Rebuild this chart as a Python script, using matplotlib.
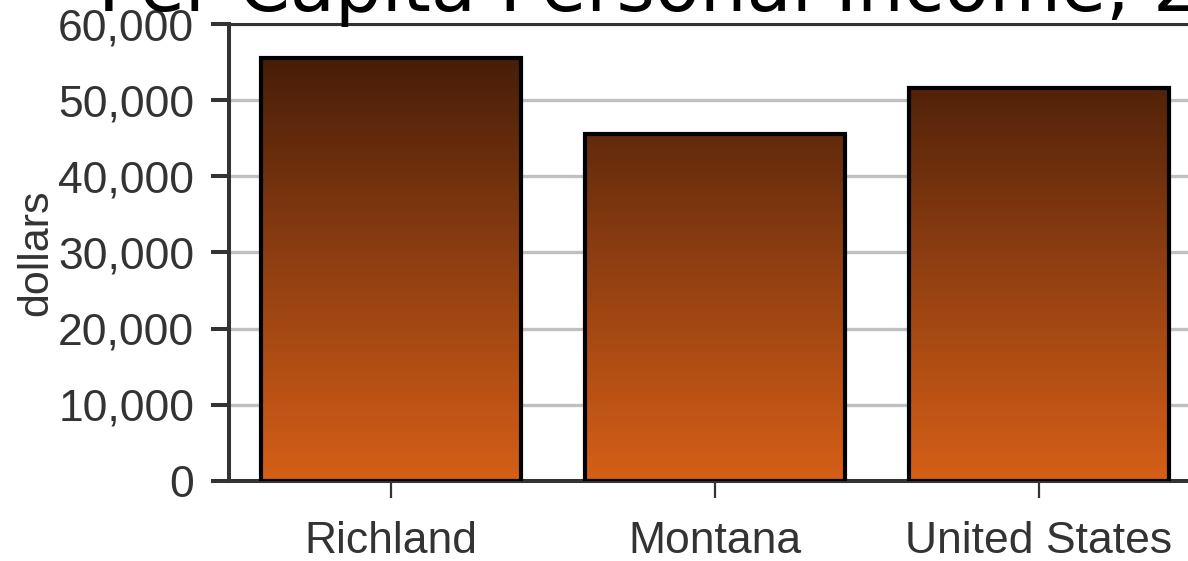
import matplotlib
matplotlib.use('Agg')
import matplotlib.pyplot as plt
import numpy as np
from matplotlib.colors import LinearSegmentedColormap

# 数据
regions = ['Richland', 'Montana', 'United States']
income = [55500, 45500, 51600]
y_ticks = [0, 10000, 20000, 30000, 40000, 50000, 60000]
title = 'Per Capita Personal Income, 2017'

W, H = 1188, 561
fig = plt.figure(figsize=(W / 100, H / 100), dpi=100)
ax = fig.add_axes([229 / W, 1 - 481 / H, 972 / W, (481 - 24) / H])

x = np.arange(len(regions))
ymax = y_ticks[-1]

# 渐变色填充: 底部橙色, 顶部深棕
cmap = LinearSegmentedColormap.from_list('brown', ['#D65F17', '#8C3D11', '#3A1806'])
grad = np.linspace(0, 1, 256).reshape(-1, 1)

bars = ax.bar(x, income, width=0.8, facecolor='none', edgecolor='black',
              linewidth=3, zorder=3)
for xi, bar in zip(x, bars):
    im = ax.imshow(grad, cmap=cmap, origin='lower', aspect='auto',
                   extent=(xi - 0.4, xi + 0.4, 0, ymax), zorder=2)
    im.set_clip_path(bar)

ax.set_xlim(-0.5, len(regions) - 0.5)
ax.set_ylim(0, ymax)
ax.set_xticks(x)
ax.set_xticklabels(regions)
ax.set_yticks(y_ticks)
ax.set_yticklabels([f'{v:,}' for v in y_ticks])

ax.yaxis.grid(True, color='#c0c0c0', linewidth=2.4, zorder=0)
ax.set_axisbelow(True)

for side in ['left', 'bottom']:
    ax.spines[side].set_linewidth(2.9)
    ax.spines[side].set_color('#333333')
ax.spines['top'].set_linewidth(2.2)
ax.spines['top'].set_color('#333333')
ax.spines['right'].set_visible(False)

ax.tick_params(axis='y', length=13, width=2.9, color='#333333', pad=12,
               labelsize=32, labelcolor='#333333')
ax.tick_params(axis='x', length=12, width=1.6, color='#333333', pad=17,
               labelsize=32, labelcolor='#333333')
for lab in ax.get_xticklabels() + ax.get_yticklabels():
    lab.set_family('Liberation Sans')

ax.set_ylabel('dollars', fontsize=31, color='#333333', family='Liberation Sans')
ax.yaxis.set_label_coords((56 - 229) / 972, 0.5)

fig.text(98 / W, 1 - 11 / H, title, fontsize=53, family='DejaVu Sans',
         ha='left', va='baseline', color='black')

fig.savefig('out.png', dpi=100)
